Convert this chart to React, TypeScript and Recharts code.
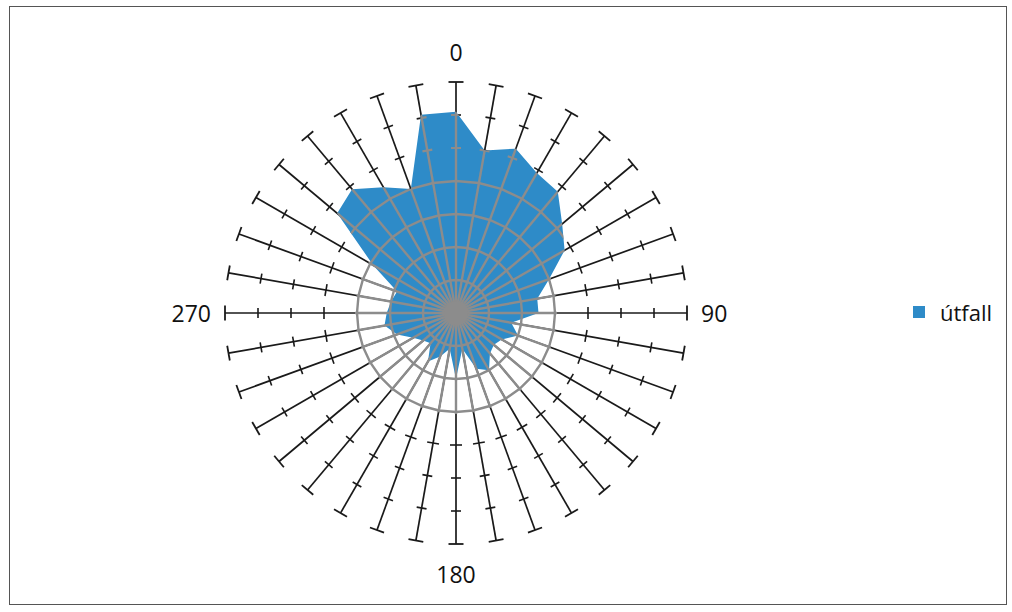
import React from 'react';
import { RadarChart, Radar, PolarAngleAxis, PolarRadiusAxis, Legend } from 'recharts';

// ---- data ----
const DIRECTIONS = ['0', '10', '20', '30', '40', '50', '60', '70', '80', '90', '100', '110', '120', '130', '140', '150', '160', '170', '180', '190', '200', '210', '220', '230', '240', '250', '260', '270', '280', '290', '300', '310', '320', '330', '340', '350'];
const UTFALL = [61, 50, 53, 49, 48, 42, 38, 30, 25, 25, 17, 20, 16, 15, 16, 20, 18, 11, 20, 11, 14, 17, 12, 13, 15, 19, 22, 21, 20, 19, 29, 47, 49, 44, 40, 61];
const SHOWN_LABELS = ['0', '90', '180', '270'];
const SERIES_NAME = 'útfall';
const RADIUS_MAX = 70;
const INNER_RINGS = [10, 20, 30, 40];
const OUTER_TICKS = [40, 50, 60];
const GRAY_TICKS = [50, 60];
const INNER_LIMIT = 30;

// ---- styles ----
const W = 996;
const H = 597;
const CX = 446;
const CY = 306;
const OUTER_R = 231;
const BLUE = '#2E8BC8';
const GRAY = '#8C8C8C';
const BLACK = '#1A1A1A';
const FONT = '"Open Sans", "Liberation Sans", sans-serif';
const RAD = Math.PI / 180;

const data = DIRECTIONS.map((d, i) => ({ dir: d, v: UTFALL[i] }));

const RadarShape = (props: any) => {
  const pts: any[] = props.points || [];
  if (!pts.length) return <g />;
  const cx = pts[0].cx ?? CX;
  const cy = pts[0].cy ?? CY;
  const ref = pts.find((p) => p.value > 0);
  const k = ref.radius / ref.value;
  const R = k * RADIUS_MAX;
  const pol = (r: number, a: number) => [cx + Math.cos(-a * RAD) * r, cy + Math.sin(-a * RAD) * r];
  const angles = pts.map((p) => p.angle as number);
  const polyStr = pts.map((p) => `${p.x},${p.y}`).join(' ');

  const tick = (r: number, a: number, half: number, key: string, color: string, w: number) => {
    const [px, py] = pol(r, a);
    const ux = Math.cos(-a * RAD);
    const uy = Math.sin(-a * RAD);
    const nx = -uy;
    const ny = ux;
    return (
      <line key={key} x1={px - nx * half} y1={py - ny * half} x2={px + nx * half} y2={py + ny * half} stroke={color} strokeWidth={w} />
    );
  };

  const ringStr = (v: number) => angles.map((a) => pol(k * v, a).join(',')).join(' ');

  return (
    <g>
      <defs>
        <clipPath id="utfallClip">
          <polygon points={polyStr} />
          <circle cx={cx} cy={cy} r={k * INNER_LIMIT + 2} />
        </clipPath>
      </defs>
      {/* black spokes & ticks */}
      <g>
        {angles.map((a, i) => {
          const [x2, y2] = pol(R, a);
          return <line key={'bs' + i} x1={cx} y1={cy} x2={x2} y2={y2} stroke={BLACK} strokeWidth={1.7} />;
        })}
        {angles.map((a, i) =>
          OUTER_TICKS.map((v, j) => tick(k * v, a, v === 40 ? 6 : 5, 'bt' + i + '-' + j, BLACK, 1.6))
        )}
        {angles.map((a, i) => tick(R, a, 7.5, 'cap' + i, BLACK, 1.8))}
      </g>
      {/* filled series */}
      <polygon points={polyStr} fill={BLUE} stroke="none" />
      {/* gray overlay */}
      <g clipPath="url(#utfallClip)">
        {angles.map((a, i) => {
          const [x2, y2] = pol(R, a);
          return <line key={'gs' + i} x1={cx} y1={cy} x2={x2} y2={y2} stroke={GRAY} strokeWidth={2.4} />;
        })}
        {INNER_RINGS.map((v) => (
          <polygon key={'gr' + v} points={ringStr(v)} fill="none" stroke={GRAY} strokeWidth={2.4} />
        ))}
        {angles.map((a, i) => GRAY_TICKS.map((v, j) => tick(k * v, a, 5, 'gt' + i + '-' + j, GRAY, 2.2)))}
      </g>
      <circle cx={cx} cy={cy} r={12} fill={GRAY} />
    </g>
  );
};

const AngleTick = (props: any) => {
  const { x, y, payload } = props;
  const label = String(payload?.value);
  if (!SHOWN_LABELS.includes(label)) return <g />;
  const dx = x - CX;
  const dy = y - CY;
  const len = Math.hypot(dx, dy) || 1;
  const ux = dx / len;
  const uy = dy / len;
  const horizontal = Math.abs(ux) > 0.7;
  const r = horizontal ? 245 : 261;
  const tx = CX + ux * r;
  const ty = CY + uy * r;
  const anchor = horizontal ? (ux > 0 ? 'start' : 'end') : 'middle';
  return (
    <text x={tx} y={ty} textAnchor={anchor} dominantBaseline="central" fontFamily={FONT} fontSize={23} fill="#111">
      {label}
    </text>
  );
};

const LegendContent = () => (
  <div style={{ display: 'flex', alignItems: 'center', fontFamily: FONT, fontSize: 22, color: '#111' }}>
    <span style={{ display: 'inline-block', width: 12, height: 12, background: BLUE, marginRight: 15 }} />
    <span>{SERIES_NAME}</span>
  </div>
);

export default function App() {
  return (
    <div style={{ position: 'absolute', left: 9, top: 6, width: W + 2, height: H + 2, boxSizing: 'border-box', border: '1px solid #555', background: '#fff' }}>
      <RadarChart width={W} height={H} data={data} cx={CX} cy={CY} outerRadius={OUTER_R} margin={{ top: 0, right: 0, bottom: 0, left: 0 }}>
        <PolarRadiusAxis domain={[0, RADIUS_MAX]} tick={false} axisLine={false} angle={90} />
        <PolarAngleAxis dataKey="dir" tick={AngleTick} tickLine={false} axisLine={false} />
        <Radar dataKey="v" name={SERIES_NAME} fill={BLUE} fillOpacity={1} stroke="none" isAnimationActive={false} shape={RadarShape} />
        <Legend content={LegendContent} wrapperStyle={{ position: 'absolute', left: 903, top: 290, width: 90, height: 30 }} />
      </RadarChart>
    </div>
  );
}
